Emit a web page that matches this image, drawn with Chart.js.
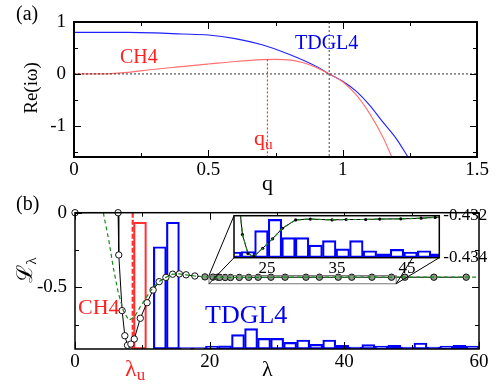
<!DOCTYPE html>
<html><head><meta charset="utf-8">
<script src="https://cdn.jsdelivr.net/npm/chart.js@4/dist/chart.umd.min.js"></script>
<style>
body{margin:0;background:#fff;}
#wrap{position:relative;width:500px;height:385px;font-family:"Liberation Serif","Times New Roman",serif;overflow:hidden;}
canvas{position:absolute;left:0;}
.t{position:absolute;white-space:nowrap;line-height:1;}
.r{transform:translate(-50%,-50%) rotate(-90deg);}
sub{font-size:70%;vertical-align:-0.25em;}
</style></head><body>
<div id="wrap">
<canvas id="ca" width="500" height="190" style="top:0"></canvas>
<canvas id="cb" width="500" height="195" style="top:190px"></canvas>
<canvas id="ci" width="500" height="195" style="top:190px"></canvas>
<div class="t" style="left:16px;top:3px;font-size:20px">(a)</div>
<div class="t" style="left:16px;top:193px;font-size:20px">(b)</div>
<div class="t r" style="left:30px;top:88px;font-size:19px">Re(iω)</div>
<div class="t" style="left:262px;top:172px;font-size:22px">q</div>
<div class="t" style="left:295px;top:32px;font-size:20px;color:#0000ee">TDGL4</div>
<div class="t" style="left:120px;top:46px;font-size:20px;color:#ff2020">CH4</div>
<div class="t" style="left:254px;top:127px;font-size:22px;color:#ff2020">q<sub>u</sub></div>
<div class="t r" style="left:26px;top:270px;font-size:22px">ℒ<sub>λ</sub></div>
<div class="t" style="left:262px;top:358px;font-size:22px">λ</div>
<div class="t" style="left:125px;top:356px;font-size:24px;color:#ff2020">λ<sub>u</sub></div>
<div class="t" style="left:78px;top:296px;font-size:22px;color:#ff2020">CH4</div>
<div class="t" style="left:205px;top:302px;font-size:26px;color:#0000ee">TDGL4</div>
</div>
<script>
// ---------- panel (a) data ----------
const qBlue   = [0, 0.1, 0.2, 0.3, 0.4, 0.5, 0.6, 0.7, 0.8, 0.9, 0.95, 1.0, 1.05, 1.1, 1.15, 1.2, 1.243];
const reBlue  = [0.80, 0.80, 0.80, 0.79, 0.77, 0.75, 0.68, 0.56, 0.38, 0.15, 0.0, -0.14, -0.33, -0.60, -0.93, -1.25, -1.6];
const qRed    = [0, 0.1, 0.15, 0.2, 0.3, 0.4, 0.5, 0.6, 0.7, 0.75, 0.8, 0.85, 0.9, 0.95, 1.0, 1.05, 1.1, 1.15, 1.183];
const reRed   = [0, 0, 0.01, 0.03, 0.09, 0.14, 0.19, 0.24, 0.275, 0.28, 0.27, 0.22, 0.13, 0.0, -0.15, -0.40, -0.76, -1.22, -1.6];
const qCross  = 0.95;
const qU      = 0.72;
const reAtQU  = 0.28;
const aXTicks = [0, 0.5, 1, 1.5];
const aXMinor = [0.25, 0.75, 1.25];
const aYTicks = [1, 0, -1];
const aYMinor = [0.5, -0.5, -1.5];

// ---------- panel (b) data ----------
const lamBlack = [0, 6.4, 6.5, 7.0, 7.4, 7.8, 8.3, 8.8, 9.7, 10.7, 11.6, 12.5, 13.5, 14.5, 15.5, 16.5, 17.8, 19.3, 20.5, 21.2, 21.5, 22.3, 23.1, 24.4, 25.8, 27.2, 29.1, 31.2, 34.3, 36.3, 39.1, 41.1, 44.1, 47.0, 49.0, 53.3, 58.1];
const lBlack   = [0, 0, -0.283, -0.656, -0.824, -0.888, -0.880, -0.846, -0.707, -0.603, -0.518, -0.462, -0.433, -0.412, -0.410, -0.416, -0.424, -0.4300, -0.4314, -0.4319, -0.4329, -0.4338, -0.43395, -0.43355, -0.4331, -0.4326, -0.4322, -0.43216, -0.4322, -0.43218, -0.43218, -0.43216, -0.43215, -0.43212, -0.43208, -0.4321, -0.4321];
const lamGreen = [4.2, 5.0, 5.7, 6.4, 7.2, 8.0, 8.8, 9.7, 10.7, 11.6, 12.5, 13.5, 14.5, 15.5, 16.5, 17.8, 19.3, 20.5, 21.2, 21.5, 22.3, 23.1, 24.4, 25.8, 27.2, 29.1, 31.2, 34.3, 36.3, 39.1, 41.1, 44.1, 47.0, 49.0, 53.3, 58.1, 60];
const lGreen   = [0, -0.18, -0.37, -0.53, -0.66, -0.72, -0.70, -0.63, -0.56, -0.50, -0.46, -0.433, -0.412, -0.410, -0.416, -0.424, -0.4300, -0.4314, -0.4319, -0.4329, -0.4338, -0.43395, -0.43355, -0.4331, -0.4326, -0.4322, -0.43216, -0.4322, -0.43218, -0.43218, -0.43216, -0.43215, -0.43212, -0.43208, -0.4321, -0.4321, -0.4321];
const lamU     = 8.57;
// histograms (bin centres in lambda, relative heights)
const binRedX  = [9.65];
const binRedY  = [0.93];
const binBlueX = [12.6, 14.54, 16.47, 18.41, 20.34, 22.28, 24.21, 26.15, 28.08, 30.02, 31.95, 33.89, 35.82, 37.76, 39.69, 41.63, 43.56, 45.5, 47.43, 49.37, 51.3, 53.24, 55.17, 57.11, 59.04];
const binBlueY = [0.75, 0.93, 0.01, 0.01, 0.022, 0.024, 0.105, 0.149, 0.078, 0.078, 0.049, 0.066, 0.034, 0.066, 0.027, 0.015, 0.032, 0.022, 0.027, 0.015, 0.044, 0.015, 0.022, 0.027, 0.022];
const bXTicks = [0, 20, 40, 60];
const bXMinor = [10, 30, 50];
const bYTicks = [0, -0.5];
const bYMinor = [-0.25, -0.75];
// inset
const insXTicks = [25, 35, 45];
const insYTicks = [-0.432, -0.434];
const insXRange = [20.3, 49.6];
const insYRange = [-0.434, -0.432];
const insHistMax = 0.163;
const zoomBox   = [19.9, 47.7, -0.421, -0.476];

// ---------- helpers ----------
const FAM = '"Liberation Serif", "Times New Roman", serif';
Chart.defaults.font.family = FAM;
Chart.defaults.color = '#000';
Chart.defaults.animation = false;
const pts = (xs, ys) => xs.map((x, i) => ({x, y: ys[i]}));
const fixW = w => s => { s.width = w; };
const fixH = h => s => { s.height = h; };
const setTicks = arr => s => { s.ticks = arr.map(v => ({value: v})); };
const F = size => ({family: FAM, size});

const frameTicks = {
  id: 'frameTicks',
  afterDatasetsDraw(chart, args, o) {
    const {ctx, chartArea: a, scales} = chart;
    const xs = scales.x, ys = scales.y;
    ctx.save();
    ctx.strokeStyle = o.color || '#000';
    ctx.lineWidth = 1;
    const ln = (x1, y1, x2, y2) => { ctx.beginPath(); ctx.moveTo(x1, y1); ctx.lineTo(x2, y2); ctx.stroke(); };
    const groups = [[o.xMajor || [], o.major], [o.xMinor || [], o.minor]];
    for (const [vals, len] of groups) for (const v of vals) {
      const p = Math.round(xs.getPixelForValue(v)) + 0.5;
      ln(p, a.bottom, p, a.bottom - len);
      if (o.mirror) ln(p, a.top, p, a.top + len);
    }
    const gy = [[o.yMajor || [], o.major], [o.yMinor || [], o.minor]];
    for (const [vals, len] of gy) for (const v of vals) {
      const p = Math.round(ys.getPixelForValue(v)) + 0.5;
      ln(a.left, p, a.left + len, p);
      if (o.mirror) ln(a.right, p, a.right - len, p);
    }
    ctx.lineWidth = o.frame || 2;
    ctx.strokeRect(a.left, a.top, a.right - a.left, a.bottom - a.top);
    ctx.restore();
  }
};

const G = {display: false, drawTicks: false};

// ---------- panel (a) ----------
new Chart(document.getElementById('ca'), {
  type: 'line',
  data: { datasets: [
    {data: [{x: 0, y: 0}, {x: 1.5, y: 0}], borderColor: '#333', borderWidth: 1, borderDash: [2, 2], pointRadius: 0},
    {data: [{x: qCross, y: 1}, {x: qCross, y: -1.6}], borderColor: '#666', borderWidth: 1.2, borderDash: [2, 2], pointRadius: 0},
    {data: [{x: qU, y: reAtQU}, {x: qU, y: -1.6}], borderColor: '#ff3030', borderWidth: 1.2, borderDash: [2, 2], pointRadius: 0},
    {data: pts(qRed, reRed), borderColor: '#ff7070', borderWidth: 1.1, pointRadius: 0, cubicInterpolationMode: 'monotone'},
    {data: pts(qBlue, reBlue), borderColor: '#2020ff', borderWidth: 1.1, pointRadius: 0, cubicInterpolationMode: 'monotone'}
  ]},
  options: {
    responsive: false, events: [],
    layout: {padding: {left: 0, right: 23, top: 22, bottom: 0}},
    plugins: {legend: {display: false}, tooltip: {enabled: false},
      frameTicks: {xMajor: aXTicks, xMinor: aXMinor, yMajor: aYTicks, yMinor: aYMinor, major: 7, minor: 4, mirror: true, frame: 2}},
    scales: {
      x: {type: 'linear', offset: false, min: 0, max: 1.5, afterBuildTicks: setTicks(aXTicks), afterFit: fixH(33),
          grid: G, border: {display: false},
          ticks: {font: F(19), padding: 2, maxRotation: 0, callback: v => String(v)}},
      y: {type: 'linear', min: -1.6, max: 1, afterBuildTicks: setTicks(aYTicks), afterFit: fixW(74),
          grid: G, border: {display: false},
          ticks: {font: F(19), padding: 8, callback: v => String(v)}}
    }
  },
  plugins: [frameTicks]
});

// ---------- panel (b) ----------
const zoomPlugin = {
  id: 'zoomPlugin',
  afterDatasetsDraw(chart) {
    const {ctx, scales: {x, y}} = chart;
    const x1 = x.getPixelForValue(zoomBox[0]), x2 = x.getPixelForValue(zoomBox[1]);
    const y1 = y.getPixelForValue(zoomBox[2]), y2 = y.getPixelForValue(zoomBox[3]);
    const ins = window.insetChart; if (!ins) return;
    const ia = ins.chartArea;
    ctx.save();
    ctx.strokeStyle = '#777'; ctx.lineWidth = 1;
    ctx.strokeRect(x1, y1, x2 - x1, y2 - y1);
    ctx.strokeStyle = '#000';
    ctx.beginPath();
    ctx.moveTo(ia.left, ia.top); ctx.lineTo(x1, y1);
    ctx.moveTo(ia.left, ia.bottom); ctx.lineTo(x1, y2);
    ctx.moveTo(ia.right, ia.top); ctx.lineTo(x2, y2);
    ctx.moveTo(ia.right, ia.bottom); ctx.lineTo(x2, y2);
    ctx.stroke();
    ctx.restore();
  }
};

const insetBg = {
  id: 'insetBg',
  beforeDatasetsDraw(chart) {
    const {ctx, chartArea: a} = chart;
    ctx.save(); ctx.fillStyle = '#fff'; ctx.fillRect(a.left, a.top, a.right - a.left, a.bottom - a.top); ctx.restore();
  }
};

window.insetChart = new Chart(document.getElementById('ci'), {
  data: { datasets: [
    {type: 'bar', data: pts(binBlueX, binBlueY), yAxisID: 'yh', borderColor: '#0000ff', backgroundColor: 'rgba(0,0,0,0)', borderWidth: 1.5, borderSkipped: false, grouped: false, barPercentage: 1, categoryPercentage: 1, order: 3},
    {type: 'line', data: pts(lamBlack, lBlack), borderColor: '#000', borderWidth: 1, pointRadius: 1.6, pointBackgroundColor: '#000', pointBorderWidth: 0, order: 2},
    {type: 'line', data: pts(lamGreen, lGreen), borderColor: '#1a8a1a', borderWidth: 1.2, borderDash: [4, 3], pointRadius: 0, order: 1}
  ]},
  options: {
    responsive: false, events: [],
    layout: {padding: {left: 234, right: 0, top: 25.7, bottom: 107.3}},
    plugins: {legend: {display: false}, tooltip: {enabled: false},
      frameTicks: {xMajor: [], yMajor: [], major: 0, minor: 0, frame: 1.5}},
    scales: {
      x: {type: 'linear', offset: false, min: insXRange[0], max: insXRange[1], afterBuildTicks: setTicks(insXTicks), afterFit: fixH(20),
          grid: G, border: {display: false},
          ticks: {font: F(17), padding: 1, maxRotation: 0, callback: v => String(v)}},
      y: {type: 'linear', position: 'right', min: insYRange[0], max: insYRange[1], afterBuildTicks: setTicks(insYTicks), afterFit: fixW(60.7),
          grid: G, border: {display: false},
          ticks: {font: F(17), padding: 4, callback: v => v.toFixed(3)}},
      yh: {type: 'linear', display: false, min: 0, max: insHistMax}
    }
  },
  plugins: [insetBg, frameTicks]
});

new Chart(document.getElementById('cb'), {
  data: { datasets: [
    {type: 'bar', data: pts(binBlueX, binBlueY), yAxisID: 'yh', borderColor: '#0000ff', backgroundColor: 'rgba(0,0,0,0)', borderWidth: 1.5, borderSkipped: false, grouped: false, barPercentage: 1, categoryPercentage: 1, order: 5},
    {type: 'bar', data: pts(binRedX, binRedY), yAxisID: 'yh', borderColor: '#ff3030', backgroundColor: 'rgba(0,0,0,0)', borderWidth: 1.5, borderSkipped: false, grouped: false, barPercentage: 1, categoryPercentage: 1, order: 5},
    {type: 'line', data: [{x: lamU, y: 0}, {x: lamU, y: -0.913}], borderColor: '#ff3030', borderWidth: 2.2, borderDash: [5, 2], pointRadius: 0, order: 4},
    {type: 'line', data: pts(lamBlack, lBlack), borderColor: '#000', borderWidth: 1, pointRadius: 3.2, pointBorderWidth: 1,
     pointBackgroundColor: c => (c.raw && c.raw.x > 18 ? '#8a9a86' : '#fff'), pointBorderColor: '#111', clip: 8, order: 2},
    {type: 'line', data: pts(lamGreen, lGreen), borderColor: '#1a8a1a', borderWidth: 1.2, borderDash: [4, 3], pointRadius: 0, order: 1}
  ]},
  options: {
    responsive: false, events: [],
    layout: {padding: {left: 0, right: 21, top: 22.7, bottom: 0}},
    plugins: {legend: {display: false}, tooltip: {enabled: false},
      frameTicks: {xMajor: bXTicks, xMinor: bXMinor, yMajor: bYTicks, yMinor: bYMinor, major: 7, minor: 4, mirror: true, frame: 1.5, color: '#000'}},
    scales: {
      x: {type: 'linear', offset: false, min: 0, max: 60, afterBuildTicks: setTicks(bXTicks), afterFit: fixH(36),
          grid: G, border: {display: false},
          ticks: {font: F(19), padding: 2, maxRotation: 0, callback: v => String(v)}},
      y: {type: 'linear', min: -0.913, max: 0, afterBuildTicks: setTicks(bYTicks), afterFit: fixW(75),
          grid: G, border: {display: false},
          ticks: {font: F(19), padding: 8, callback: v => String(v)}},
      yh: {type: 'linear', display: false, min: 0, max: 1}
    }
  },
  plugins: [frameTicks, zoomPlugin]
});
</script>
</body></html>
